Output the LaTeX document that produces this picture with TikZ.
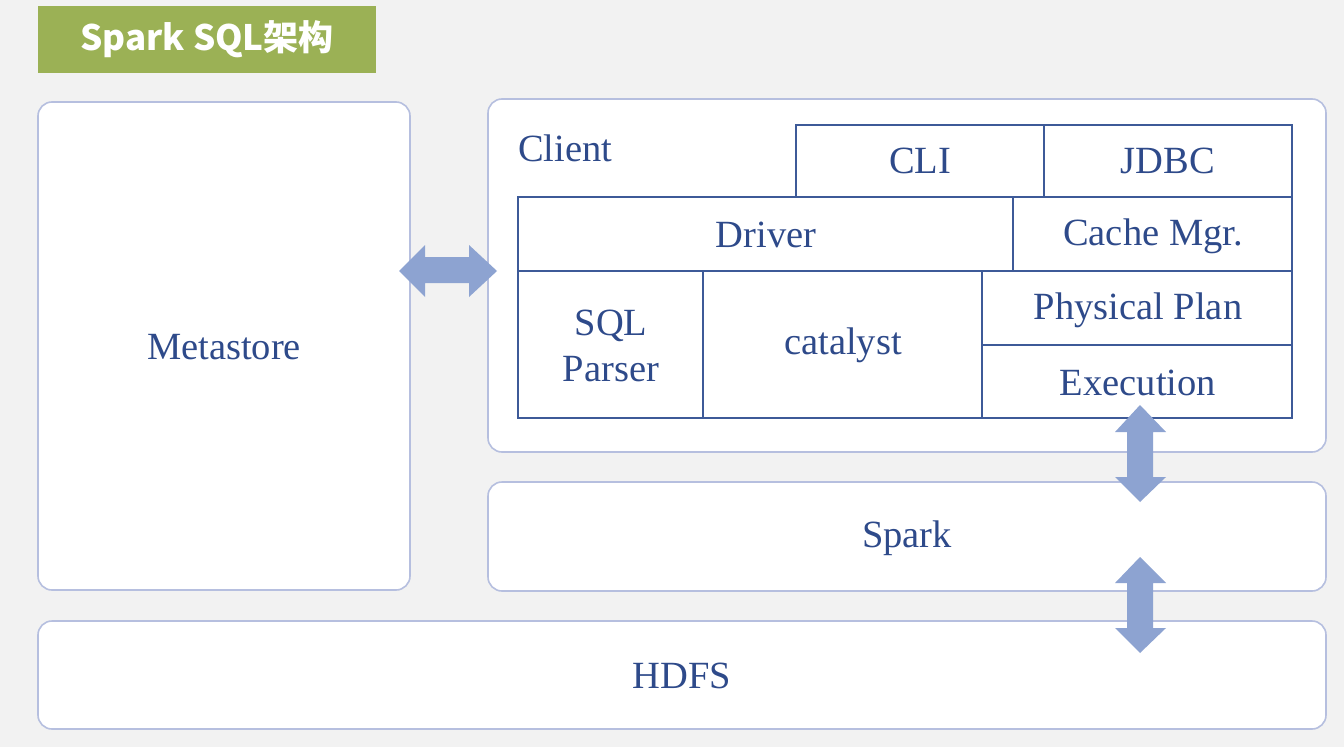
\documentclass[tikz,border=0pt]{standalone}
\usepackage{fontspec}
\setmainfont{Liberation Serif}
\newfontfamily\cjk{Noto Sans CJK SC}
\definecolor{bgc}{HTML}{F2F2F2}
\definecolor{ttl}{HTML}{9BB155}
\definecolor{txt}{HTML}{2E4A8A}
\definecolor{grid}{HTML}{3D5A98}
\definecolor{outer}{HTML}{B6BFDF}
\definecolor{arr}{HTML}{8DA3D1}
\tikzset{
  outerbox/.style={draw=outer, line width=1.6pt, fill=white, rounded corners=14pt},
  cell/.style={draw=grid, line width=2pt, fill=white},
  lbl/.style={text=txt, font=\fontsize{38.5}{46}\selectfont, align=center, inner sep=0pt},
  fat/.style={fill=arr, draw=none},
}
\begin{document}
\begin{tikzpicture}[x=1pt,y=-1pt]
\fill[bgc] (0,0) rectangle (1344,747);
\useasboundingbox (0,0) rectangle (1344,747);
% title
\node[fill=ttl, minimum width=338pt, minimum height=67pt, inner sep=0pt, anchor=north west] (title) at (38,6)
  {\textcolor{white}{\cjk\bfseries\fontsize{35}{38}\selectfont Spark SQL架构}};
% outer boxes
\draw[outerbox] (38,102) rectangle (410,590);
\node[lbl] (meta) at (224,347) {Metastore};
\draw[outerbox] (488,99) rectangle (1326,452);
\node[lbl, anchor=west] (client) at (518,148) {Client};
\draw[outerbox] (488,482) rectangle (1326,591);
\node[lbl] (spark) at (907,538) {Spark};
\draw[outerbox] (38,621) rectangle (1326,729);
\node[lbl] (hdfs) at (682,676) {HDFS};
% grid cells
\draw[cell] (796,125) rectangle (1044,197);
\draw[cell] (1044,125) rectangle (1292,197);
\draw[cell] (518,197) rectangle (1013,271);
\draw[cell] (1013,197) rectangle (1292,271);
\draw[cell] (518,271) rectangle (703,418);
\draw[cell] (703,271) rectangle (982,418);
\draw[cell] (982,271) rectangle (1292,345);
\draw[cell] (982,345) rectangle (1292,418);
\node[lbl] (cli) at (920,161) {CLI};
\node[lbl] (jdbc) at (1168,161) {JDBC};
\node[lbl] (driver) at (766,235) {Driver};
\node[lbl] (cache) at (1153,236) {Cache Mgr.};
\node[lbl] (sqlp) at (611,346) {SQL\\Parser};
\node[lbl] (cat) at (843,345) {catalyst};
\node[lbl] (phys) at (1138,310) {Physical Plan};
\node[lbl] (exec) at (1138,383) {Execution};
% fat double arrows
\fill[fat] (399,271) -- (425,245) -- (425,257) -- (469,257) -- (469,245) -- (497,271)
  -- (469,297) -- (469,283) -- (425,283) -- (425,297) -- cycle;
\fill[fat] (1140,405) -- (1166,432) -- (1153,432) -- (1153,477) -- (1166,477) -- (1140,502)
  -- (1115,477) -- (1127,477) -- (1127,432) -- (1115,432) -- cycle;
\fill[fat] (1140,557) -- (1166,583) -- (1153,583) -- (1153,628) -- (1166,628) -- (1140,653)
  -- (1115,628) -- (1127,628) -- (1127,583) -- (1115,583) -- cycle;
\end{tikzpicture}
\end{document}
